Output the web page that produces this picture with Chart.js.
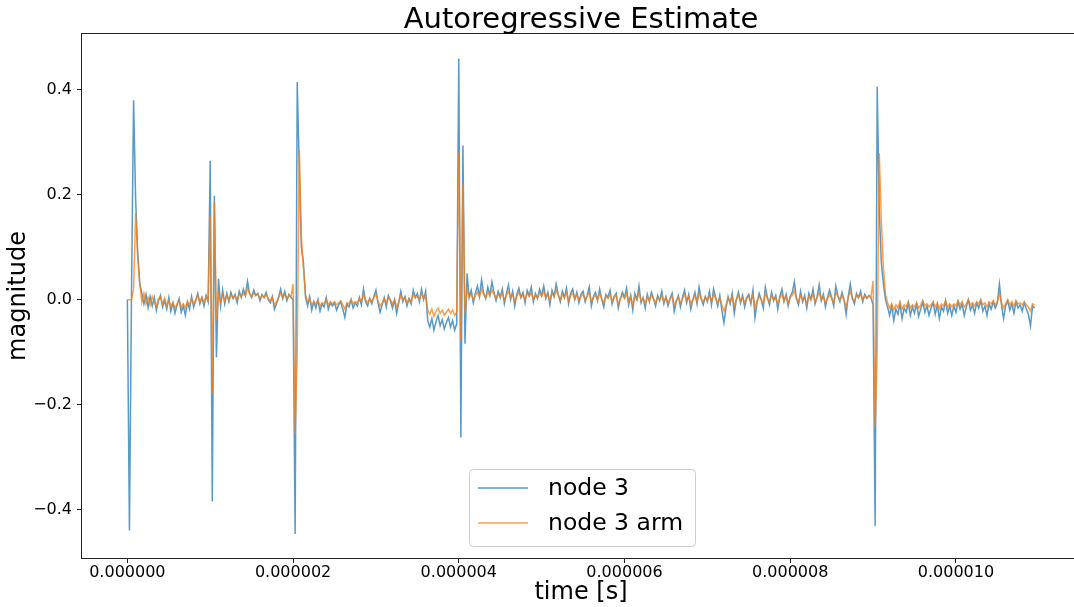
<!DOCTYPE html>
<html>
<head>
<meta charset="utf-8">
<script src="https://cdn.jsdelivr.net/npm/chart.js@4.4.1/dist/chart.umd.min.js"></script>
<style>
  html, body { margin: 0; padding: 0; background: #fff; overflow: hidden; width: 1074px; height: 607px; }
  canvas { display: block; }
</style>
</head>
<body>
<canvas id="c" width="1082" height="607" style="width:1082px;height:607px"></canvas>
<script>
const TITLE = 'Autoregressive Estimate';
const X_LABEL = 'time [s]';
const Y_LABEL = 'magnitude';
const SERIES_NAMES = ['node 3', 'node 3 arm'];
const SAMPLE_PERIOD = 2.5e-8; // seconds between samples
const X_TICKS = [0, 2e-6, 4e-6, 6e-6, 8e-6, 1e-5];
const X_TICK_LABELS = ['0.000000', '0.000002', '0.000004', '0.000006', '0.000008', '0.000010'];
const Y_TICKS = [-0.4, -0.2, 0, 0.2, 0.4];
const Y_TICK_LABELS = ['\u22120.4', '\u22120.2', '0.0', '0.2', '0.4'];

const node3 = [
  0, -0.44, 0.015, 0.38, 0.19, 0.09, 0.03, 0.012, -0.008, 0.01, -0.015, 0.006, -0.012, 0.004, -0.02, -0.003, 0.008, -0.014, -0.002, -0.018,
  0.004, -0.022, -0.006, -0.026, -0.01, 0.002, -0.024, -0.012, -0.03, -0.004, -0.018, 0.006, -0.014, -0.002, 0.012, -0.008, 0.004, -0.012, 0.008, -0.004,
  0.265, -0.385, 0.198, -0.11, 0.04, -0.012, 0.018, -0.008, 0.012, -0.004, 0.014, 0.002, 0.01, -0.006, 0.016, 0.004, 0.02, 0.008, 0.035, 0.012,
  0.004, 0.018, 0.008, 0.012, -0.002, 0.01, 0.004, 0.014, 0.0, -0.006, 0.006, -0.018, -0.008, 0.004, 0.02, 0.002, 0.016, -0.002, 0.01, 0.004,
  0.0, -0.447, 0.415, 0.25, 0.1, 0.07, 0.005, -0.012, 0.006, -0.02, -0.004, -0.016, 0.0, -0.022, -0.008, -0.014, 0.004, -0.018, -0.006, -0.012,
  -0.006, -0.02, -0.01, -0.004, -0.018, -0.034, -0.008, -0.014, 0.0, -0.016, -0.006, -0.012, 0.004, -0.01, 0.02, -0.004, -0.012, 0.002, -0.008, 0.006,
  0.018, -0.006, -0.024, -0.01, 0.004, -0.014, 0.008, -0.002, -0.016, 0.0, -0.026, -0.006, 0.016, -0.004, 0.006, -0.012, 0.002, -0.008, 0.018, 0.004,
  0.012, -0.004, 0.02, 0.0, 0.016, -0.04, -0.052, -0.036, -0.058, -0.042, -0.03, -0.05, -0.038, -0.056, -0.044, -0.034, -0.052, -0.04, -0.058, -0.046,
  0.46, -0.263, 0.294, -0.084, 0.05, 0.004, 0.018, -0.006, 0.012, 0.026, 0.006, 0.038, 0.012, 0.002, 0.024, 0.008, 0.034, 0.014, -0.002, 0.016,
  0.004, 0.02, -0.008, 0.012, 0.028, 0.0, 0.016, -0.012, 0.01, 0.022, 0.004, 0.014, -0.006, 0.018, 0.008, 0.024, -0.004, 0.012, 0.002, 0.02,
  0.008, 0.026, 0.002, 0.014, -0.01, 0.018, 0.006, 0.03, 0.01, -0.004, 0.016, 0.004, 0.022, -0.008, 0.012, 0.02, 0.0, 0.014, -0.006, 0.01,
  0.016, -0.004, 0.008, 0.024, -0.012, 0.006, 0.014, -0.002, 0.02, 0.0, -0.014, 0.01, 0.004, 0.018, -0.008, 0.006, 0.012, -0.016, 0.002, 0.014,
  0.004, 0.022, -0.01, 0.008, -0.02, 0.012, 0.0, 0.026, -0.006, 0.004, -0.016, 0.01, -0.004, 0.014, 0.002, -0.012, 0.008, -0.002, 0.016, -0.008,
  0.006, -0.012, 0.002, 0.012, -0.022, -0.004, 0.008, -0.014, 0.004, 0.018, -0.006, 0.01, -0.018, 0.0, 0.014, -0.008, 0.024, 0.002, -0.01, 0.006,
  -0.004, 0.016, -0.01, 0.02, 0.004, -0.012, 0.008, -0.02, -0.044, -0.016, 0.006, -0.008, 0.012, -0.026, 0.0, 0.014, -0.006, 0.008, -0.014, 0.004,
  0.01, -0.008, 0.018, -0.034, -0.006, 0.012, 0.0, -0.016, 0.024, 0.004, -0.01, 0.014, -0.002, 0.008, -0.018, 0.006, 0.02, -0.004, 0.01, -0.012,
  0.006, 0.014, 0.034, 0.002, -0.01, 0.016, -0.004, 0.008, -0.016, 0.012, 0.0, 0.02, -0.008, 0.006, 0.028, -0.002, 0.01, -0.014, 0.004, 0.018,
  0.004, -0.012, 0.026, 0.008, -0.004, 0.014, 0.0, -0.028, 0.006, 0.03, 0.002, -0.008, 0.012, 0.004, 0.016, -0.004, 0.01, 0.002, 0.008,
  0.004, -0.01, -0.432, 0.406, 0.17, 0.07, 0.03, 0.0, -0.014, -0.03, -0.012, -0.04, -0.018, -0.028, -0.008, -0.036, -0.016, -0.024, -0.006, -0.03,
  -0.014, -0.026, -0.008, -0.032, -0.018, -0.004, -0.024, -0.012, -0.03, -0.016, -0.006, -0.028, -0.01, -0.036, -0.014, -0.022, -0.002, -0.026, -0.012, -0.03,
  -0.012, -0.024, -0.004, -0.018, -0.008, -0.03, -0.014, 0.0, -0.02, -0.01, -0.026, -0.006, -0.016, -0.002, -0.022, -0.012, -0.03, -0.008, -0.018, -0.004,
  -0.016, -0.006, 0.03, -0.01, -0.036, -0.012, -0.002, -0.02, -0.008, -0.026, -0.004, -0.016, -0.01, -0.022, -0.006, -0.018, -0.028, -0.05, -0.012, -0.016
];

const node3Arm = [
  0, 0, 0, 0.02, 0.165, 0.08, 0.03, -0.005, 0.012, -0.008, 0.004, -0.01, 0.006, -0.006, -0.012, 0.002, 0.005, -0.008, 0.003, -0.012,
  -0.002, -0.012, -0.006, -0.016, -0.008, -0.002, -0.014, -0.008, -0.016, -0.004, -0.01, 0.002, -0.008, 0.0, 0.008, -0.004, 0.004, -0.006, 0.006, 0.0,
  0.16, -0.18, 0.186, -0.04, 0.01, -0.004, 0.01, -0.002, 0.008, 0.0, 0.008, 0.004, 0.006, 0.0, 0.01, 0.006, 0.012, 0.008, 0.022, 0.012,
  0.006, 0.012, 0.008, 0.01, 0.002, 0.008, 0.004, 0.01, 0.002, -0.002, 0.004, -0.01, -0.004, 0.004, 0.012, 0.004, 0.01, 0.002, 0.008, 0.006,
  0.03, -0.256, -0.1, 0.285, 0.12, 0.06, 0.01, -0.004, 0.002, -0.01, -0.004, -0.008, -0.002, -0.012, -0.006, -0.008, 0.0, -0.01, -0.004, -0.008,
  -0.004, -0.01, -0.006, -0.002, -0.01, -0.018, -0.006, -0.008, 0.0, -0.008, -0.004, -0.006, 0.002, -0.004, 0.01, 0.0, -0.006, 0.002, -0.004, 0.004,
  0.01, -0.002, -0.012, -0.006, 0.002, -0.006, 0.004, 0.0, -0.008, 0.0, -0.014, -0.004, 0.008, 0.0, 0.004, -0.006, 0.002, -0.004, 0.01, 0.004,
  0.006, 0.0, 0.012, 0.002, 0.008, -0.02, -0.028, -0.018, -0.032, -0.022, -0.016, -0.026, -0.02, -0.03, -0.024, -0.018, -0.026, -0.02, -0.03, -0.024,
  0.28, -0.075, 0.22, -0.027, 0.02, 0.006, 0.01, 0.0, 0.008, 0.014, 0.006, 0.02, 0.01, 0.004, 0.014, 0.008, 0.018, 0.01, 0.002, 0.01,
  0.006, 0.012, 0.0, 0.008, 0.016, 0.004, 0.01, -0.004, 0.006, 0.014, 0.004, 0.01, 0.0, 0.012, 0.006, 0.014, 0.0, 0.008, 0.004, 0.012,
  0.006, 0.016, 0.004, 0.01, -0.002, 0.012, 0.006, 0.018, 0.008, 0.0, 0.01, 0.004, 0.014, -0.002, 0.008, 0.012, 0.002, 0.01, 0.0, 0.006,
  0.01, 0.0, 0.006, 0.014, -0.004, 0.004, 0.008, 0.0, 0.012, 0.002, -0.006, 0.006, 0.002, 0.01, -0.002, 0.004, 0.008, -0.008, 0.002, 0.008,
  0.002, 0.012, -0.004, 0.006, -0.01, 0.006, 0.0, 0.014, -0.002, 0.002, -0.008, 0.006, -0.002, 0.008, 0.002, -0.006, 0.004, 0.0, 0.008, -0.004,
  0.004, -0.006, 0.002, 0.006, -0.01, -0.002, 0.004, -0.006, 0.002, 0.01, -0.002, 0.006, -0.008, 0.0, 0.008, -0.004, 0.012, 0.002, -0.004, 0.004,
  -0.002, 0.008, -0.004, 0.01, 0.002, -0.006, 0.004, -0.01, -0.022, -0.01, 0.002, -0.004, 0.006, -0.012, 0.0, 0.008, -0.002, 0.004, -0.006, 0.002,
  0.006, -0.004, 0.01, -0.016, -0.002, 0.006, 0.0, -0.008, 0.012, 0.002, -0.004, 0.008, 0.0, 0.004, -0.008, 0.004, 0.01, -0.002, 0.006, -0.006,
  0.004, 0.008, 0.018, 0.002, -0.004, 0.008, 0.0, 0.004, -0.008, 0.006, 0.0, 0.01, -0.004, 0.004, 0.014, 0.0, 0.006, -0.006, 0.002, 0.01,
  0.002, -0.006, 0.014, 0.006, 0.0, 0.008, 0.0, -0.014, 0.004, 0.016, 0.002, -0.002, 0.008, 0.004, 0.01, 0.0, 0.006, 0.004, 0.006,
  0.006, 0.036, -0.244, -0.098, 0.279, 0.15, 0.06, 0.01, -0.006, -0.016, -0.008, -0.02, -0.01, -0.016, -0.004, -0.018, -0.01, -0.014, -0.004, -0.016,
  -0.01, -0.014, -0.006, -0.016, -0.01, -0.002, -0.012, -0.008, -0.014, -0.01, -0.004, -0.014, -0.006, -0.018, -0.008, -0.012, -0.002, -0.014, -0.008, -0.014,
  -0.008, -0.012, -0.002, -0.01, -0.004, -0.014, -0.008, 0.0, -0.01, -0.006, -0.012, -0.004, -0.008, 0.0, -0.01, -0.006, -0.014, -0.004, -0.008, -0.002,
  -0.01, -0.004, 0.012, -0.006, -0.016, -0.008, 0.0, -0.01, -0.004, -0.012, -0.002, -0.008, -0.006, -0.01, -0.004, -0.01, -0.014, -0.022, -0.008, -0.01
];

const COLORS = ['rgba(31,119,180,0.75)', 'rgba(255,127,14,0.75)'];
const FONT = 'DejaVu Sans';

const toPoints = arr => arr.map((v, i) => ({ x: i * SAMPLE_PERIOD, y: v }));

const decorPlugin = {
  id: 'decor',
  afterDraw(chart) {
    const { ctx, chartArea: a } = chart;
    ctx.save();
    // axes frame
    ctx.strokeStyle = '#222';
    ctx.lineWidth = 1;
    ctx.strokeRect(Math.round(a.left) - 0.5, Math.round(a.top) - 0.5,
                   Math.round(a.right - a.left) + 1, Math.round(a.bottom - a.top) + 1);
    const cx = (a.left + a.right) / 2;
    // title
    ctx.fillStyle = '#000';
    ctx.font = '29px "' + FONT + '"';
    ctx.textAlign = 'center';
    ctx.textBaseline = 'alphabetic';
    ctx.fillText(TITLE, cx, 28);
    // legend
    const lw = 226, lh = 77;
    const lx = Math.round(cx + 0.5 - lw / 2) + 0.5, ly = 469.5;
    ctx.beginPath();
    ctx.roundRect(lx, ly, lw, lh, 4);
    ctx.fillStyle = 'rgba(255,255,255,0.8)';
    ctx.fill();
    ctx.strokeStyle = '#cccccc';
    ctx.lineWidth = 1;
    ctx.stroke();
    const rows = [488, 523];
    ctx.font = '23.5px "' + FONT + '"';
    ctx.textAlign = 'left';
    ctx.textBaseline = 'middle';
    SERIES_NAMES.forEach((name, k) => {
      ctx.strokeStyle = COLORS[k];
      ctx.lineWidth = 1.5;
      ctx.beginPath();
      ctx.moveTo(lx + 8.5, rows[k]);
      ctx.lineTo(lx + 58.5, rows[k]);
      ctx.stroke();
      ctx.fillStyle = '#000';
      ctx.fillText(name, lx + 78.5, rows[k] + 1);
    });
    ctx.restore();
  }
};

new Chart(document.getElementById('c'), {
  type: 'line',
  data: {
    datasets: [
      { label: SERIES_NAMES[0], data: toPoints(node3), borderColor: COLORS[0], borderWidth: 1.5,
        pointRadius: 0, tension: 0, fill: false, order: 2 },
      { label: SERIES_NAMES[1], data: toPoints(node3Arm), borderColor: COLORS[1], borderWidth: 1.5,
        pointRadius: 0, tension: 0, fill: false, order: 1 }
    ]
  },
  options: {
    responsive: false,
    animation: false,
    devicePixelRatio: 1,
    layout: { padding: { top: 34, right: 2, left: 0, bottom: 0 } },
    plugins: { legend: { display: false }, title: { display: false }, tooltip: { enabled: false } },
    scales: {
      x: {
        type: 'linear',
        min: -0.5475e-6,
        max: 11.4975e-6,
        afterBuildTicks: s => { s.ticks = X_TICKS.map(v => ({ value: v })); },
        afterFit: s => { s.height = 49; },
        border: { display: false },
        grid: { drawOnChartArea: false, drawTicks: true, tickLength: 5, tickColor: '#222', tickWidth: 1 },
        ticks: { autoSkip: false, maxRotation: 0, minRotation: 0, padding: 0, color: '#000',
                 font: { family: FONT, size: 16 }, callback: (v, i) => X_TICK_LABELS[i] },
        title: { display: true, text: X_LABEL, color: '#000', font: { family: FONT, size: 24, lineHeight: 1 },
                 padding: { top: 0, bottom: 2 } }
      },
      y: {
        type: 'linear',
        min: -0.4926,
        max: 0.5065,
        afterBuildTicks: s => { s.ticks = Y_TICKS.map(v => ({ value: v })); },
        afterFit: s => { s.width = 82; },
        border: { display: false },
        grid: { drawOnChartArea: false, drawTicks: true, tickLength: 5, tickColor: '#222', tickWidth: 1 },
        ticks: { autoSkip: false, padding: 5, color: '#000', font: { family: FONT, size: 16 },
                 callback: (v, i) => Y_TICK_LABELS[i] },
        title: { display: true, text: Y_LABEL, color: '#000', font: { family: FONT, size: 24, lineHeight: 1 },
                 padding: { top: 7, bottom: 0 } }
      }
    }
  },
  plugins: [decorPlugin]
});
</script>
</body>
</html>
